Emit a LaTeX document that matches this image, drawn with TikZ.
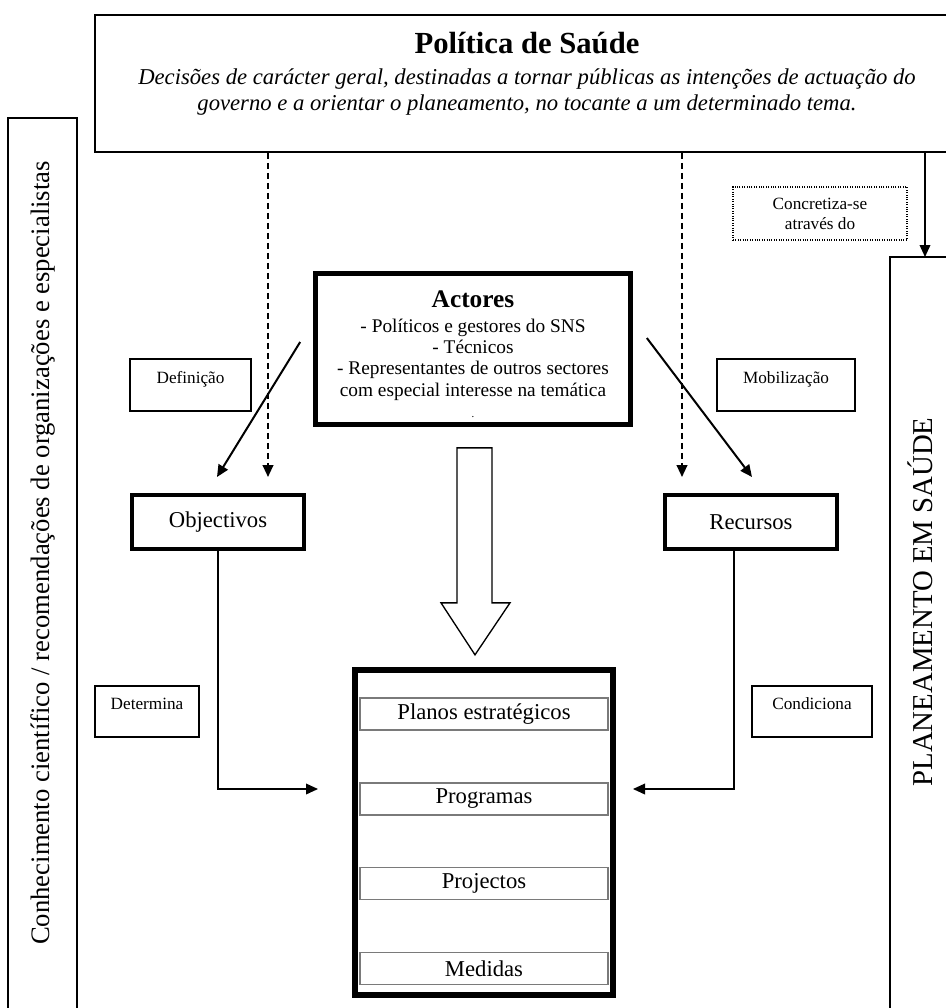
\documentclass[tikz,border=0pt]{standalone}
\usepackage{fontspec}
\setmainfont{Liberation Serif}
\usetikzlibrary{arrows.meta, calc}
\definecolor{cinzaitem}{HTML}{7a7a7a}

\begin{document}
\begin{tikzpicture}[x=0.75pt, y=-0.75pt,
    moldura/.style={draw, line width=1pt},
    rotulo/.style={draw, line width=0.9pt, inner sep=0pt, text height=18pt, text depth=21pt, font=\fontsize{12.9}{15}\selectfont},
    grossa/.style={draw, line width=3pt, minimum width=129pt, minimum height=40.5pt, font=\fontsize{17}{20}\selectfont},
    item/.style={draw=cinzaitem, line width=0.8pt, minimum width=186pt, minimum height=24pt, inner sep=0pt, font=\fontsize{17}{20}\selectfont},
    seta/.style={line width=1.5pt, -{Triangle[length=9pt, width=8pt]}},
    tracejada/.style={seta, dash pattern=on 5pt off 2.5pt},
  ]
  \useasboundingbox (0,0) rectangle (946,1008);
  \clip (0,0) rectangle (946,1008);

  % politica
  \node[draw, line width=1.2pt, minimum width=652.5pt, minimum height=102.75pt, inner sep=0pt] (politica) at (530,83.5) {};
  \node[anchor=base, font=\fontsize{23}{27}\selectfont\bfseries] (titulo) at (527,53) {Política de Saúde};
  \node[align=center, font=\fontsize{17}{19.5}\selectfont\itshape] (descricao) at (527,92) {Decisões de carácter geral, destinadas a tornar públicas as intenções de actuação do\\governo e a orientar o planeamento, no tocante a um determinado tema.};

  % molduras laterais
  \draw[moldura] (8,118) rectangle (77,1030);
  \node[rotate=90, font=\fontsize{20}{24}\selectfont] (conhecimento) at (42.5,553) {Conhecimento científico / recomendações de organizações e especialistas};
  \draw[moldura] (890,257) rectangle (980,1030);
  \coordinate (planeamentotopo) at (925,257);
  \node[rotate=90, font=\fontsize{21.6}{26}\selectfont] (planeamento) at (920,602) {PLANEAMENTO EM SAÚDE};

  \node[draw, densely dotted, line width=0.8pt, minimum width=130.5pt, minimum height=39.75pt, inner sep=0pt, align=center, font=\fontsize{12.9}{15}\selectfont] (concretiza) at (820,213.5) {Concretiza-se\\através do};
  \draw[seta, line width=1.1pt] (politica.south -| planeamentotopo) -- (planeamentotopo);

  % actores
  \node[draw, line width=3.75pt, minimum width=236pt, minimum height=113pt, inner sep=0pt, align=center, font=\fontsize{14.5}{16}\selectfont] (actores) at (473,349) {{\fontsize{19}{22}\selectfont\bfseries\rule{0pt}{20pt}Actores}\\[2.75pt]- Políticos e gestores do SNS\\- Técnicos\\- Representantes de outros sectores\\com especial interesse na temática\\{\fontsize{8}{16}\selectfont .}};

  \node[grossa] (objectivos) at (218,522) {Objectivos};
  \node[grossa] (recursos) at (751,522) {Recursos};

  \node[rotulo, minimum width=90.75pt] (definicao) at (190.5,385) {Definição};
  \node[rotulo, minimum width=103.5pt] (mobilizacao) at (786,385) {Mobilização};
  \node[rotulo, minimum width=78pt, text height=17.25pt] (determina) at (147,711.5) {Determina};
  \node[rotulo, minimum width=90pt, text height=17.25pt] (condiciona) at (812,711.5) {Condiciona};

  \coordinate (alvoesq) at ([shift={(50,-16)}]objectivos.north);
  \coordinate (alvodir) at ([shift={(-69,-16)}]recursos.north);
  \draw[tracejada] (politica.south -| alvoesq) -- (alvoesq);
  \draw[tracejada] (politica.south -| alvodir) -- (alvodir);
  \draw[seta] ([shift={(-13,-7)}]actores.west) -- ([shift={(-1,-16)}]objectivos.north);
  \draw[seta] ([shift={(14,-11)}]actores.east) -- ([shift={(1,-16)}]recursos.north);

  % planos
  \node[draw, line width=4.5pt, minimum width=193.5pt, minimum height=243.75pt] (caixa) at (484,832.5) {};
  \foreach \y/\txt/\nome in {714/Planos estratégicos/planos, 799/Programas/programas, 883.5/Projectos/projectos, 968.5/Medidas/medidas}
    \node[item] (\nome) at (484,\y) {\txt};

  \draw[line width=1pt] ([shift={(-16,21)}]actores.south) -- ++(35,0) -- ++(0,155) -- ++(18,0) -- ++(-35,52) -- ++(-34,-52) -- ++(16,0) -- cycle;

  \draw[seta, line width=1.1pt] (objectivos.south) |- ([shift={(-34,-43.5)}]caixa.west);
  \draw[seta, line width=1.1pt] ([shift={(-17,0)}]recursos.south) |- ([shift={(17,-43.5)}]caixa.east);
\end{tikzpicture}
\end{document}
